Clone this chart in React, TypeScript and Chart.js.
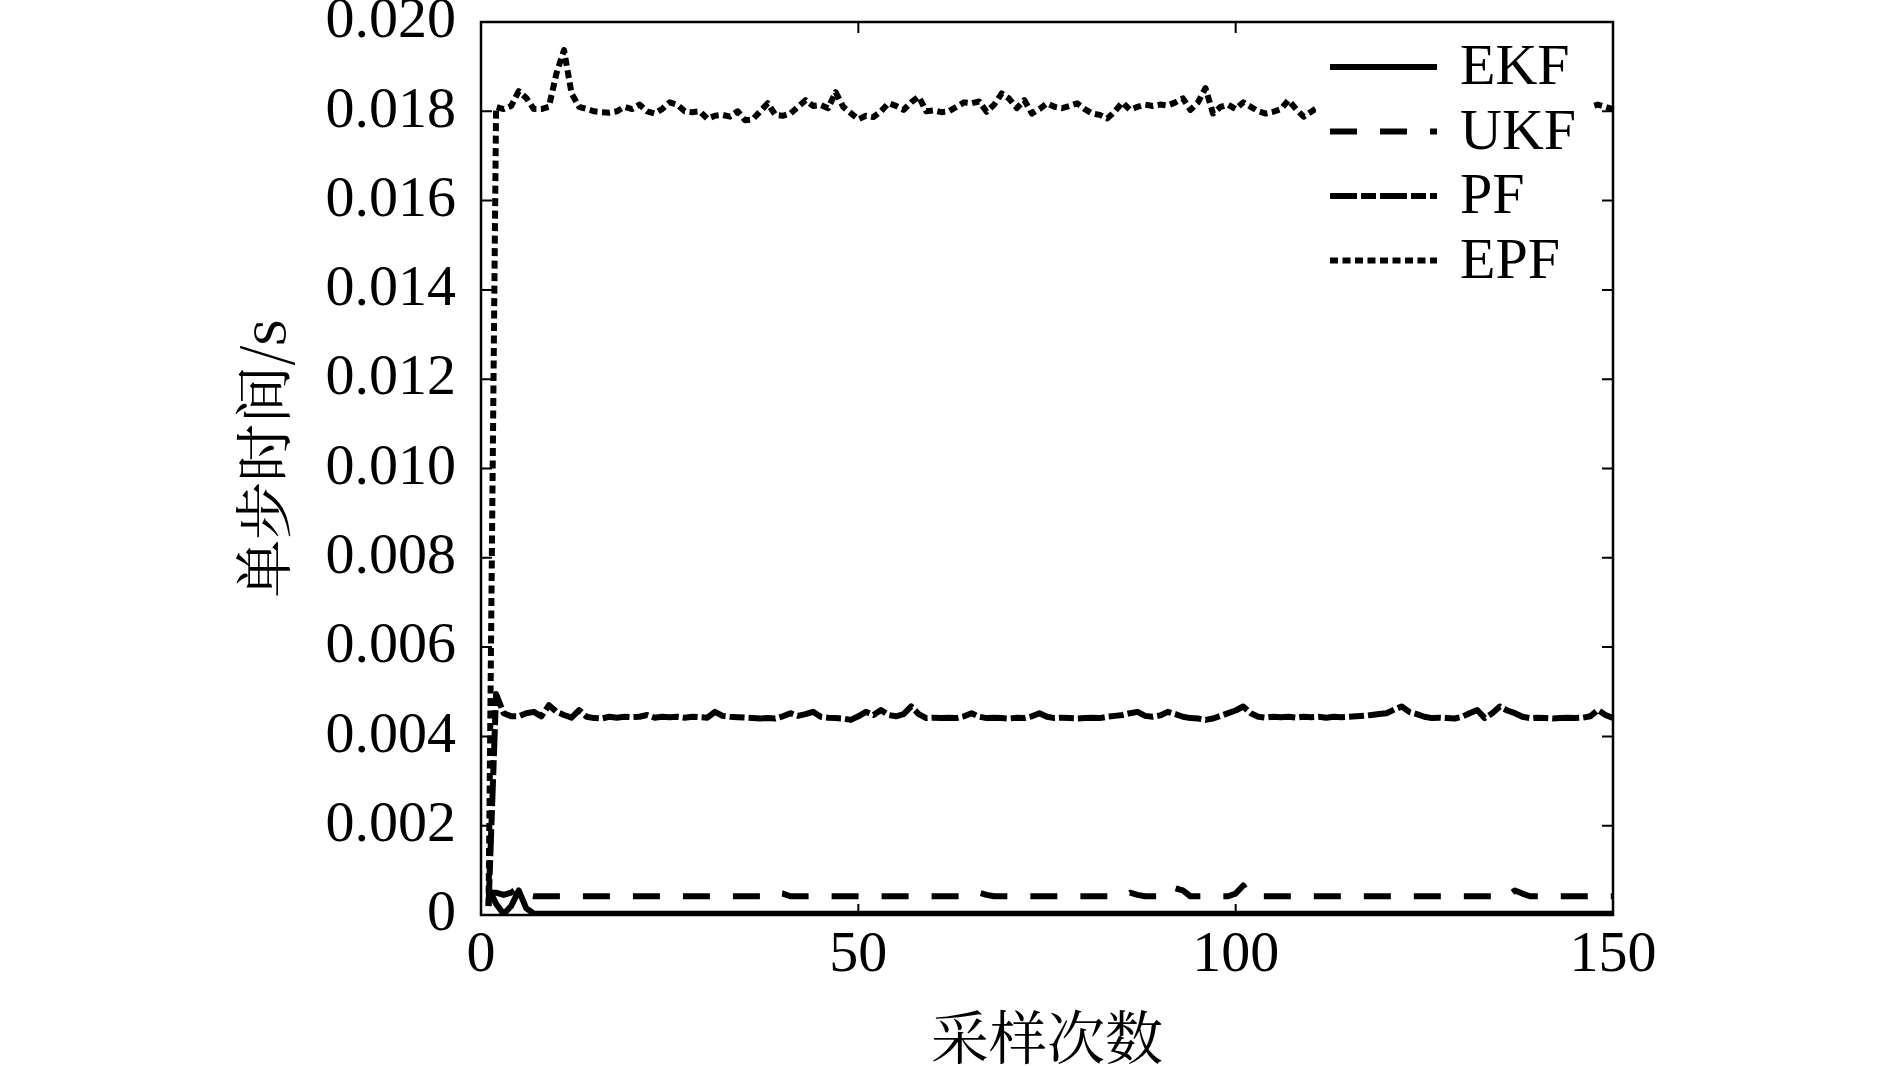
import React, { useEffect, useRef } from 'react';
import { Chart, registerables } from 'chart.js';

Chart.register(...registerables);

// sample numbers (x categories)
const sampleNo: number[] = Array.from({ length: 150 }, (_, i) => i + 1);

// single-step time, in milliseconds (converted to seconds when plotted)
const ekfMs: number[] = [
  0.6, 0.25, 0.02, 0.2, 0.55, 0.15,
  ...Array.from({ length: 144 }, () => 0.03),
];

const ukfMs: number[] = [
  0.5, 0.5, 0.45, 0.5, 0.62, 0.45, 0.42, 0.42, 0.42, 0.42,
  0.42, 0.42, 0.42, 0.42, 0.42, 0.42, 0.42, 0.42, 0.42, 0.42,
  0.42, 0.42, 0.42, 0.42, 0.42, 0.42, 0.42, 0.42, 0.42, 0.42,
  0.42, 0.42, 0.42, 0.42, 0.42, 0.42, 0.42, 0.42, 0.5, 0.48,
  0.42, 0.42, 0.42, 0.42, 0.42, 0.42, 0.42, 0.42, 0.42, 0.42,
  0.42, 0.42, 0.42, 0.42, 0.42, 0.42, 0.42, 0.42, 0.42, 0.42,
  0.42, 0.42, 0.42, 0.42, 0.42, 0.5, 0.45, 0.42, 0.42, 0.42,
  0.42, 0.42, 0.42, 0.42, 0.42, 0.42, 0.42, 0.42, 0.42, 0.42,
  0.42, 0.42, 0.42, 0.42, 0.42, 0.5, 0.45, 0.42, 0.42, 0.42,
  0.42, 0.6, 0.55, 0.42, 0.42, 0.42, 0.42, 0.42, 0.42, 0.48,
  0.66, 0.42, 0.42, 0.42, 0.42, 0.42, 0.42, 0.42, 0.42, 0.42,
  0.42, 0.42, 0.42, 0.42, 0.42, 0.42, 0.42, 0.42, 0.42, 0.42,
  0.42, 0.42, 0.42, 0.42, 0.42, 0.42, 0.42, 0.42, 0.42, 0.42,
  0.42, 0.42, 0.42, 0.42, 0.42, 0.42, 0.55, 0.48, 0.42, 0.42,
  0.42, 0.42, 0.42, 0.42, 0.42, 0.42, 0.42, 0.42, 0.42, 0.42,
];

const pfMs: number[] = [
  0.2, 4.95, 4.52, 4.45, 4.45, 4.52, 4.55, 4.45, 4.7, 4.55,
  4.48, 4.42, 4.59, 4.44, 4.41, 4.4, 4.44, 4.42, 4.44, 4.43,
  4.44, 4.48, 4.42, 4.44, 4.43, 4.44, 4.42, 4.44, 4.43, 4.42,
  4.55, 4.46, 4.44, 4.43, 4.42, 4.41, 4.4, 4.41, 4.4, 4.45,
  4.52, 4.46, 4.5, 4.55, 4.44, 4.42, 4.41, 4.4, 4.37, 4.45,
  4.55, 4.48, 4.59, 4.48, 4.45, 4.5, 4.67, 4.5, 4.41, 4.42,
  4.41, 4.42, 4.41, 4.45, 4.52, 4.44, 4.41, 4.42, 4.41, 4.4,
  4.42, 4.41, 4.45, 4.52, 4.44, 4.41, 4.42, 4.41, 4.4, 4.41,
  4.42, 4.41, 4.44, 4.46, 4.48, 4.52, 4.55, 4.46, 4.44, 4.47,
  4.55, 4.5, 4.44, 4.41, 4.4, 4.37, 4.4, 4.46, 4.52, 4.58,
  4.67, 4.52, 4.44, 4.42, 4.44, 4.43, 4.44, 4.42, 4.44, 4.43,
  4.44, 4.42, 4.44, 4.43, 4.44, 4.45, 4.46, 4.48, 4.5, 4.52,
  4.6, 4.67, 4.55, 4.5, 4.44, 4.41, 4.42, 4.41, 4.4, 4.44,
  4.52, 4.59, 4.41, 4.52, 4.67, 4.58, 4.52, 4.44, 4.41, 4.42,
  4.41, 4.4, 4.41, 4.42, 4.41, 4.42, 4.45, 4.59, 4.48, 4.41,
];

const epfMs: number[] = [
  0.2, 18.1, 18.05, 18.12, 18.45, 18.3, 18.05, 18.05, 18.1, 18.85,
  19.37, 18.4, 18.1, 18.05, 18.0, 17.98, 17.97, 18.0, 18.1, 18.05,
  18.15, 18.0, 17.95, 18.05, 18.2, 18.15, 18.0, 17.98, 18.0, 17.83,
  17.9, 17.92, 17.88, 18.0, 17.8, 17.82, 18.0, 18.18, 17.92, 17.9,
  17.95, 18.1, 18.25, 18.12, 18.14, 18.07, 18.43, 18.1, 17.96, 17.82,
  17.9, 17.87, 18.0, 18.18, 18.12, 18.03, 18.2, 18.33, 18.0, 18.02,
  17.98, 18.0, 18.1, 18.2, 18.18, 18.22, 17.99, 18.15, 18.4, 18.28,
  18.07, 18.25, 17.95, 18.05, 18.18, 18.1, 18.07, 18.12, 18.18, 18.05,
  17.95, 17.92, 17.84, 18.0, 18.2, 18.03, 18.1, 18.15, 18.12, 18.15,
  18.13, 18.2, 18.29, 18.03, 18.2, 18.52, 17.95, 18.1, 18.15, 18.05,
  18.2, 18.1, 18.0, 17.95, 17.99, 18.05, 18.25, 18.05, 17.88, 17.99,
  18.1, 18.0, 18.15, 17.95, 18.05, 18.2, 18.1, 17.9, 18.0, 18.25,
  18.05, 17.95, 18.1, 18.15, 18.0, 17.9, 18.05, 18.3, 18.1, 18.0,
  17.95, 18.1, 18.2, 18.05, 17.92, 18.0, 18.15, 18.1, 17.98, 18.05,
  18.22, 18.08, 17.95, 18.0, 18.12, 18.05, 18.1, 18.15, 18.1, 18.05,
];

const seriesNames: string[] = ['EKF', 'UKF', 'PF', 'EPF'];
const xTickValues: number[] = [0, 50, 100, 150];
const yTickStep = 0.002;
const yMax = 0.02;
const xTitle = '采样次数';
const yTitle = '单步时间/s';

const SERIF = "'Liberation Serif', 'Times New Roman', serif";
const CJK = "'Noto Serif CJK SC', 'Noto Sans CJK SC', sans-serif";

const dashes: number[][] = [[], [27, 23], [27, 4, 15, 4], [8, 4.5]];

export default function App() {
  const ref = useRef<HTMLCanvasElement | null>(null);

  useEffect(() => {
    document.body.style.margin = '0';
    document.body.style.overflow = 'hidden';
    const canvas = ref.current;
    if (!canvas) return;

    const toSec = (a: number[]) => a.map((v) => v / 1000);
    const seriesData = [toSec(ekfMs), toSec(ukfMs), toSec(pfMs), toSec(epfMs)];

    const decorPlugin = {
      id: 'decor',
      afterDatasetsDraw(chart: any) {
        const { ctx, chartArea } = chart;
        const { left, right, top, bottom } = chartArea;
        ctx.save();
        // legend (inside plot, top-right, white background)
        ctx.fillStyle = '#fff';
        ctx.fillRect(right - 297, top + 3, 276, 268);
        chart.data.datasets.forEach((ds: any, k: number) => {
          const ly = top + 45 + k * 64.5;
          ctx.save();
          ctx.strokeStyle = '#000';
          ctx.lineWidth = 6;
          ctx.lineCap = 'butt';
          ctx.setLineDash(ds.borderDash || []);
          ctx.beginPath();
          ctx.moveTo(right - 283, ly);
          ctx.lineTo(right - 176, ly);
          ctx.stroke();
          ctx.restore();
          ctx.fillStyle = '#000';
          ctx.font = `58px ${SERIF}`;
          ctx.textAlign = 'left';
          ctx.textBaseline = 'middle';
          ctx.fillText(ds.label, right - 153, ly + 2);
        });
        // frame
        ctx.strokeStyle = '#000';
        ctx.lineWidth = 2.5;
        ctx.setLineDash([]);
        ctx.strokeRect(left, top, right - left, bottom - top);
        // inward ticks
        ctx.lineWidth = 2;
        const tl = 11;
        chart.scales.x.ticks.forEach((t: any) => {
          const px = chart.scales.x.getPixelForValue(t.value);
          ctx.beginPath();
          ctx.moveTo(px, bottom);
          ctx.lineTo(px, bottom - tl);
          ctx.moveTo(px, top);
          ctx.lineTo(px, top + tl);
          ctx.stroke();
        });
        chart.scales.y.ticks.forEach((t: any) => {
          const py = chart.scales.y.getPixelForValue(t.value);
          ctx.beginPath();
          ctx.moveTo(left, py);
          ctx.lineTo(left + tl, py);
          ctx.moveTo(right, py);
          ctx.lineTo(right - tl, py);
          ctx.stroke();
        });
        ctx.restore();
      },
      afterDraw(chart: any) {
        const { ctx, chartArea } = chart;
        ctx.save();
        ctx.fillStyle = '#000';
        ctx.font = `58px ${CJK}`;
        ctx.textAlign = 'center';
        ctx.textBaseline = 'middle';
        ctx.fillText(xTitle, (chartArea.left + chartArea.right) / 2, chartArea.bottom + 122);
        ctx.translate(263, (chartArea.top + chartArea.bottom) / 2 - 10);
        ctx.rotate(-Math.PI / 2);
        ctx.fillText(yTitle, 0, 0);
        ctx.restore();
      },
    };

    const chart = new Chart(canvas, {
      type: 'line',
      data: {
        labels: sampleNo,
        datasets: seriesNames.map((name, k) => ({
          label: name,
          data: seriesData[k],
          borderColor: '#000',
          backgroundColor: '#000',
          borderWidth: 6,
          borderDash: dashes[k],
          borderCapStyle: 'butt',
          borderJoinStyle: 'round',
          pointRadius: 0,
          tension: 0,
          fill: false,
        })),
      },
      options: {
        responsive: false,
        animation: false,
        devicePixelRatio: 1,
        layout: { padding: { left: 0, top: 22, right: 277, bottom: 0 } },
        plugins: {
          legend: { display: false },
          tooltip: { enabled: false },
        },
        scales: {
          x: {
            type: 'linear',
            min: 0,
            max: 150,
            afterBuildTicks: (s: any) => {
              s.ticks = xTickValues.map((v) => ({ value: v }));
            },
            ticks: {
              color: '#000',
              font: { family: SERIF, size: 58 },
              padding: 6,
              maxRotation: 0,
              autoSkip: false,
            },
            grid: { display: false, drawTicks: false },
            border: { display: false },
            afterFit: (s: any) => {
              s.height = 151;
            },
          },
          y: {
            type: 'linear',
            min: 0,
            max: yMax,
            ticks: {
              stepSize: yTickStep,
              color: '#000',
              font: { family: SERIF, size: 58 },
              padding: 25,
              callback: (v: any) => (Math.abs(v) < 1e-9 ? '0' : Number(v).toFixed(3)),
            },
            grid: { display: false, drawTicks: false },
            border: { display: false },
            afterFit: (s: any) => {
              s.width = 481;
              s.paddingTop = 0;
              s.paddingBottom = 0;
            },
          },
        },
      },
      plugins: [decorPlugin],
    } as any);

    return () => chart.destroy();
  }, []);

  return (
    <div style={{ width: 1890, height: 1066 }}>
      <canvas ref={ref} width={1890} height={1066} style={{ display: 'block' }} />
    </div>
  );
}
